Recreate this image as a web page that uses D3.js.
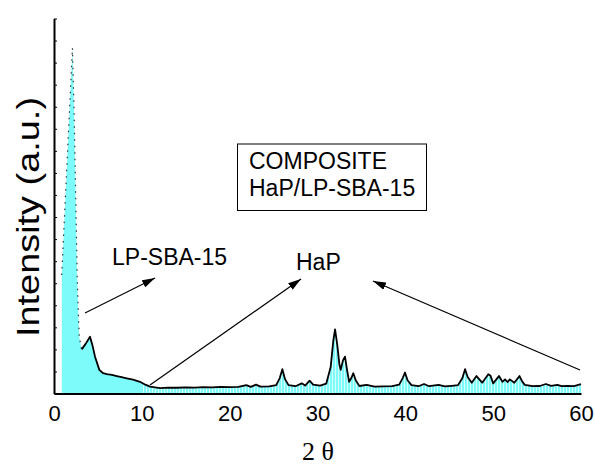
<!DOCTYPE html>
<html>
<head>
<meta charset="utf-8">
<script src="https://cdn.jsdelivr.net/npm/d3@7"></script>
<style>
  html, body { margin: 0; padding: 0; background: #fff; }
  svg { display: block; }
  text { font-family: Arial, "Liberation Sans", sans-serif; fill: #000; }
</style>
</head>
<body>
<svg id="chart" width="595" height="468"></svg>
<script>
// Diffraction pattern of the HaP/LP-SBA-15 composite (2θ in degrees, intensity in a.u.)
const twoTheta = [
  0.88, 2.1, 2.31, 2.65, 2.77, 2.88, 3.15, 3.6, 4.1, 4.4, 4.67, 5.16, 5.6, 6.0, 6.6, 7.14, 7.7, 8.28, 9.0, 9.79,
  10.4, 10.93, 12.07, 13, 14, 15, 16, 17, 18, 19, 20, 21, 21.9, 22.4, 23.0, 23.5, 24.5, 25.3, 25.7, 26.0,
  26.3, 26.7, 27.5, 28.2, 28.6, 29.1, 29.5, 30.3, 31.0, 31.5, 31.8, 32.0, 32.25, 32.5, 32.64, 32.9, 33.13, 33.35, 33.6, 33.85,
  34.08, 34.35, 34.77, 35.6, 36.5, 37.5, 38.5, 39.3, 39.7, 39.96, 40.25, 40.7, 41.5, 42.13, 42.7, 43.8, 44.5, 45.3, 46.0, 46.5,
  46.8, 47.1, 47.56, 48.1, 48.75, 49.45, 49.7, 50.0, 50.66, 51.05, 51.35, 51.65, 51.9, 52.4, 53.0, 53.3, 53.6, 54.5, 55.3, 56.0,
  56.6, 57.3, 57.8, 58.4, 59.2, 60.0
];
const intensity = [
  537, 1566, 1240, 514, 365, 256, 200, 225, 257, 215, 167, 107, 92, 88, 84, 79, 74, 69, 63, 53,
  40, 31, 24, 27, 26, 28, 27, 29, 28, 30, 29, 30, 38, 30, 40, 31, 32, 38, 70, 110,
  65, 38, 33, 46, 36, 58, 40, 36, 45, 120, 240, 291, 220, 130, 107, 150, 167, 110, 53, 70,
  92, 60, 34, 39, 31, 32, 33, 40, 70, 95, 60, 38, 33, 43, 33, 39, 32, 35, 38, 70,
  110, 75, 49, 79, 49, 87, 80, 46, 79, 53, 64, 52, 64, 49, 79, 55, 39, 33, 34, 43,
  35, 39, 33, 34, 33, 42
];
const xTicks = [0, 10, 20, 30, 40, 50, 60];
const yTicks = d3.range(0, 1701, 100);
const mesoLimit = 10; // below this angle the fill is solid (mesoporous region)

const data = twoTheta.map((t, i) => ({ t, v: intensity[i] }));

const svg = d3.select("#chart");
const x = d3.scaleLinear().domain([0, 60]).range([54, 581]);
const y = d3.scaleLinear().domain([0, 1700]).range([393.5, 18.5]);

// striped fill for the wide-angle part
const defs = svg.append("defs");
const pat = defs.append("pattern").attr("id", "stripes")
  .attr("patternUnits", "userSpaceOnUse").attr("width", 3).attr("height", 10);
pat.append("rect").attr("width", 3).attr("height", 10).attr("fill", "#7dfbfb");
pat.append("rect").attr("x", 2).attr("width", 1).attr("height", 10).attr("fill", "#d8fdfd");

defs.append("clipPath").attr("id", "lowAngle").append("rect")
  .attr("x", 0).attr("y", 0).attr("width", x(mesoLimit)).attr("height", 468);
defs.append("clipPath").attr("id", "highAngle").append("rect")
  .attr("x", x(mesoLimit)).attr("y", 0).attr("width", 595 - x(mesoLimit)).attr("height", 468);

const marker = defs.append("marker").attr("id", "head")
  .attr("viewBox", "0 0 13 8").attr("refX", 13).attr("refY", 4)
  .attr("markerWidth", 13).attr("markerHeight", 8)
  .attr("markerUnits", "userSpaceOnUse").attr("orient", "auto");
marker.append("path").attr("d", "M0,0 L13,4 L0,8 Z").attr("fill", "#000");

const area = d3.area().x(d => x(d.t)).y0(y(0)).y1(d => y(d.v));
const line = d3.line().x(d => x(d.t)).y(d => y(d.v));

svg.append("path").datum(data).attr("d", area)
  .attr("fill", "#7dfbfb").attr("clip-path", "url(#lowAngle)");
svg.append("path").datum(data).attr("d", area)
  .attr("fill", "url(#stripes)").attr("clip-path", "url(#highAngle)");

// small-angle peak drawn as a dotted trace, the rest as a solid trace
const split = twoTheta.indexOf(3.15);
svg.append("path").datum(data.slice(0, split + 1)).attr("d", line)
  .attr("fill", "none").attr("stroke", "#333").attr("stroke-width", 1.2)
  .attr("stroke-dasharray", "1.5 5");
svg.append("path").datum(data.slice(split)).attr("d", line)
  .attr("fill", "none").attr("stroke", "#000").attr("stroke-width", 1.8)
  .attr("stroke-linejoin", "round");

// axes
const yAxis = svg.append("g").attr("transform", `translate(${x(0)},0)`)
  .call(d3.axisRight(y).tickValues(yTicks).tickSize(3).tickSizeOuter(0).tickFormat(""));
yAxis.select(".domain").attr("stroke-width", 2);
yAxis.selectAll(".tick line").attr("stroke-width", 1);

const xAxis = svg.append("g").attr("transform", `translate(0,${y(0)})`)
  .call(d3.axisBottom(x).tickValues(xTicks).tickSize(0).tickPadding(12).tickFormat(d3.format("d")));
xAxis.select(".domain").attr("stroke-width", 2);
xAxis.selectAll("text").style("font-family", "Arial, 'Liberation Sans', sans-serif")
  .style("font-size", "22px").attr("fill", "#000");

// axis titles
svg.append("text").attr("transform", "translate(39,217) rotate(-90)")
  .attr("text-anchor", "middle").style("font-size", "31px")
  .attr("textLength", 240).attr("lengthAdjust", "spacingAndGlyphs")
  .text("Intensity (a.u.)");
svg.append("text").attr("x", 318).attr("y", 460).attr("text-anchor", "middle")
  .style("font-family", "'Times New Roman', 'Liberation Serif', serif").style("font-size", "26px")
  .text("2 θ");

// labels and arrows
svg.append("text").attr("x", 112).attr("y", 265).style("font-size", "23px").text("LP-SBA-15");
svg.append("text").attr("x", 296).attr("y", 270).style("font-size", "23px").text("HaP");

const arrows = [
  [85, 313, 155, 278],
  [150, 385, 301, 279],
  [580, 370, 373, 281]
];
svg.selectAll("line.arrow").data(arrows).join("line").attr("class", "arrow")
  .attr("x1", d => d[0]).attr("y1", d => d[1]).attr("x2", d => d[2]).attr("y2", d => d[3])
  .attr("stroke", "#000").attr("stroke-width", 1.2).attr("marker-end", "url(#head)");

svg.append("rect").attr("x", 237.5).attr("y", 144).attr("width", 189).attr("height", 66.5)
  .attr("fill", "#fff").attr("stroke", "#000").attr("stroke-width", 1);
svg.append("text").attr("x", 249).attr("y", 169).style("font-size", "23px").text("COMPOSITE");
svg.append("text").attr("x", 249).attr("y", 196).style("font-size", "23px").text("HaP/LP-SBA-15");
</script>
</body>
</html>
